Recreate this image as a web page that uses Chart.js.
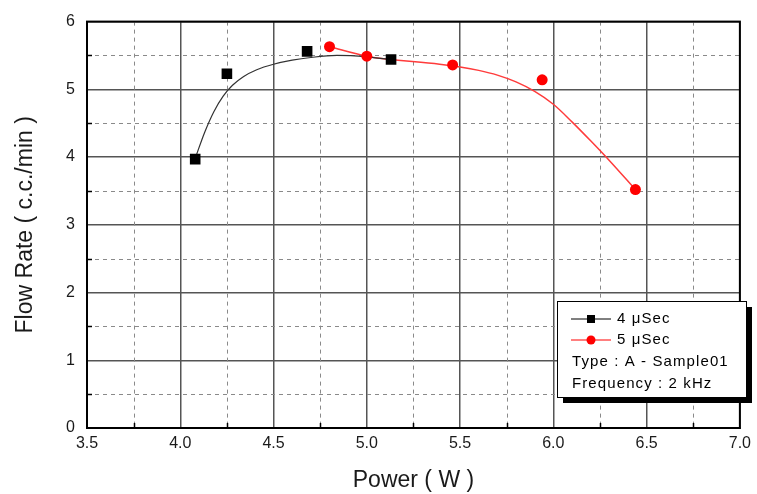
<!DOCTYPE html>
<html>
<head>
<meta charset="utf-8">
<script src="https://cdn.jsdelivr.net/npm/chart.js@4"></script>
<style>
html, body { margin: 0; padding: 0; background: #fff; }
#wrap { width: 757px; height: 494px; }
</style>
</head>
<body>
<div id="wrap"><canvas id="chart"></canvas></div>
<script>
// measured points
const power4us = [4.08, 4.25, 4.68, 5.13];
const flow4us = [3.97, 5.23, 5.56, 5.44];
const power5us = [4.80, 5.00, 5.46, 5.94, 6.44];
const flow5us = [5.63, 5.49, 5.36, 5.14, 3.52];

// fitted curves
const fitPower4us = [4.08, 4.13, 4.18, 4.23, 4.28, 4.34, 4.41, 4.50, 4.60, 4.70, 4.84, 5.00, 5.13];
const fitFlow4us = [3.98, 4.36, 4.67, 4.90, 5.06, 5.19, 5.29, 5.37, 5.43, 5.47, 5.50, 5.48, 5.44];
const fitPower5us = [4.80, 5.00, 5.39, 5.50, 5.60, 5.70, 5.80, 5.90, 6.00, 6.10, 6.20, 6.30, 6.44];
const fitFlow5us = [5.63, 5.49, 5.37, 5.33, 5.28, 5.21, 5.11, 4.97, 4.78, 4.52, 4.24, 3.95, 3.52];

const xTicks = [3.5, 4.0, 4.5, 5.0, 5.5, 6.0, 6.5, 7.0];
const yTicks = [0, 1, 2, 3, 4, 5, 6];
const legendLines = ['Type : A - Sample01', 'Frequency : 2 kHz'];

const FONT = '"Liberation Sans", Arial, sans-serif';

function toXY(xs, ys) {
    let out = [];
    for (let i = 0; i < xs.length; i++) {
        out.push({ x: xs[i], y: ys[i] });
    }
    return out;
}

// dotted minor grid + inward minor ticks + frame
const gridPlugin = {
    id: 'minorGrid',
    beforeDatasetsDraw: function (chart) {
        let ctx = chart.ctx;
        let area = chart.chartArea;
        let xs = chart.scales.x, ys = chart.scales.y;
        ctx.save();
        ctx.strokeStyle = '#8a8a8a';
        ctx.lineWidth = 1;
        ctx.setLineDash([4, 4]);
        for (let i = 0; i < xTicks.length - 1; i++) {
            let px = Math.round(xs.getPixelForValue(xTicks[i] + 0.25)) + 0.5;
            ctx.beginPath();
            ctx.moveTo(px, area.top);
            ctx.lineTo(px, area.bottom);
            ctx.stroke();
        }
        for (let i = 0; i < yTicks.length - 1; i++) {
            let py = Math.round(ys.getPixelForValue(yTicks[i] + 0.5)) + 0.5;
            ctx.beginPath();
            ctx.moveTo(area.left, py);
            ctx.lineTo(area.right, py);
            ctx.stroke();
        }
        ctx.setLineDash([]);
        ctx.strokeStyle = '#000';
        ctx.lineWidth = 1.5;
        for (let i = 0; i < xTicks.length - 1; i++) {
            let px = Math.round(xs.getPixelForValue(xTicks[i] + 0.25)) + 0.5;
            ctx.beginPath();
            ctx.moveTo(px, area.bottom);
            ctx.lineTo(px, area.bottom - 5);
            ctx.stroke();
        }
        for (let i = 0; i < yTicks.length - 1; i++) {
            let py = Math.round(ys.getPixelForValue(yTicks[i] + 0.5)) + 0.5;
            ctx.beginPath();
            ctx.moveTo(area.left, py);
            ctx.lineTo(area.left + 5, py);
            ctx.stroke();
        }
        ctx.restore();
    },
    afterDraw: function (chart) {
        let ctx = chart.ctx;
        let area = chart.chartArea;
        ctx.save();
        ctx.strokeStyle = '#000';
        ctx.lineWidth = 2;
        ctx.strokeRect(area.left, area.top, area.right - area.left, area.bottom - area.top);
        ctx.restore();
    }
};

// legend box with shadow
const legendPlugin = {
    id: 'boxLegend',
    afterDraw: function (chart) {
        let ctx = chart.ctx;
        let bx = 557, by = 301, bw = 189, bh = 96;
        ctx.save();
        ctx.fillStyle = '#000';
        ctx.fillRect(bx + 6, by + 6, bw, bh);
        ctx.fillStyle = '#fff';
        ctx.fillRect(bx, by, bw, bh);
        ctx.strokeStyle = '#000';
        ctx.lineWidth = 1;
        ctx.strokeRect(bx + 0.5, by + 0.5, bw, bh);

        ctx.font = '15px ' + FONT;
        ctx.letterSpacing = '1.1px';
        ctx.textBaseline = 'middle';
        ctx.textAlign = 'left';
        let rows = [319, 340, 362, 384];
        let series = chart.data.datasets.slice(0, 2);
        for (let i = 0; i < series.length; i++) {
            let ds = series[i];
            let y = rows[i];
            ctx.strokeStyle = ds.borderColor;
            ctx.lineWidth = 1;
            ctx.beginPath();
            ctx.moveTo(571, y);
            ctx.lineTo(611, y);
            ctx.stroke();
            ctx.fillStyle = ds.backgroundColor;
            if (ds.pointStyle === 'rect') {
                ctx.fillRect(587, y - 4, 8, 8);
            } else {
                ctx.beginPath();
                ctx.arc(591, y, 4.5, 0, Math.PI * 2);
                ctx.fill();
            }
            ctx.fillStyle = '#000';
            ctx.fillText(ds.label, 617, y);
        }
        ctx.fillStyle = '#000';
        for (let i = 0; i < legendLines.length; i++) {
            ctx.fillText(legendLines[i], 572, rows[2 + i]);
        }
        ctx.restore();
    }
};

let ctx = document.getElementById('chart').getContext('2d');
let myChart = new Chart(ctx, {
    type: 'scatter',
    data: {
        datasets: [{
            label: '4 \u03bcSec',
            data: toXY(power4us, flow4us),
            pointStyle: 'rect',
            pointRadius: 7.5,
            backgroundColor: '#000',
            borderColor: '#000',
            borderWidth: 0,
            order: 1
        }, {
            label: '5 \u03bcSec',
            data: toXY(power5us, flow5us),
            pointStyle: 'circle',
            pointRadius: 5.5,
            backgroundColor: '#ff0000',
            borderColor: '#ff0000',
            borderWidth: 0,
            order: 1
        }, {
            label: 'fit 4',
            data: toXY(fitPower4us, fitFlow4us),
            showLine: true,
            pointRadius: 0,
            borderColor: '#333',
            borderWidth: 1.2,
            cubicInterpolationMode: 'monotone',
            order: 2
        }, {
            label: 'fit 5',
            data: toXY(fitPower5us, fitFlow5us),
            showLine: true,
            pointRadius: 0,
            borderColor: '#ff3b3b',
            borderWidth: 1.5,
            cubicInterpolationMode: 'monotone',
            order: 2
        }]
    },
    options: {
        responsive: true,
        maintainAspectRatio: false,
        animation: false,
        layout: {
            padding: { top: 20, right: 13, left: 0, bottom: 0 }
        },
        plugins: {
            legend: { display: false },
            tooltip: { enabled: false }
        },
        scales: {
            x: {
                type: 'linear',
                min: 3.5,
                max: 7.0,
                afterBuildTicks: function (scale) {
                    scale.ticks = xTicks.map(function (v) { return { value: v }; });
                },
                afterFit: function (scale) { scale.height = 66; },
                ticks: {
                    callback: function (v) { return Number(v).toFixed(1); },
                    font: { family: FONT, size: 16 },
                    color: '#1a1a1a',
                    padding: 6
                },
                grid: {
                    color: '#555',
                    lineWidth: 1.5,
                    drawTicks: false
                },
                border: { color: '#000', width: 2 },
                title: {
                    display: true,
                    text: 'Power ( W )',
                    font: { family: FONT, size: 23 },
                    color: '#1a1a1a',
                    padding: { top: 12, bottom: 0 }
                }
            },
            y: {
                type: 'linear',
                min: 0,
                max: 6,
                afterBuildTicks: function (scale) {
                    scale.ticks = yTicks.map(function (v) { return { value: v }; });
                },
                afterFit: function (scale) { scale.width = 87; },
                ticks: {
                    font: { family: FONT, size: 16 },
                    color: '#1a1a1a',
                    padding: 12
                },
                grid: {
                    color: '#555',
                    lineWidth: 1.5,
                    drawTicks: false
                },
                border: { color: '#000', width: 2 },
                title: {
                    display: true,
                    text: 'Flow Rate ( c.c./min )',
                    font: { family: FONT, size: 23 },
                    color: '#1a1a1a',
                    padding: { top: 12, bottom: 12 }
                }
            }
        }
    },
    plugins: [gridPlugin, legendPlugin]
});
</script>
</body>
</html>
